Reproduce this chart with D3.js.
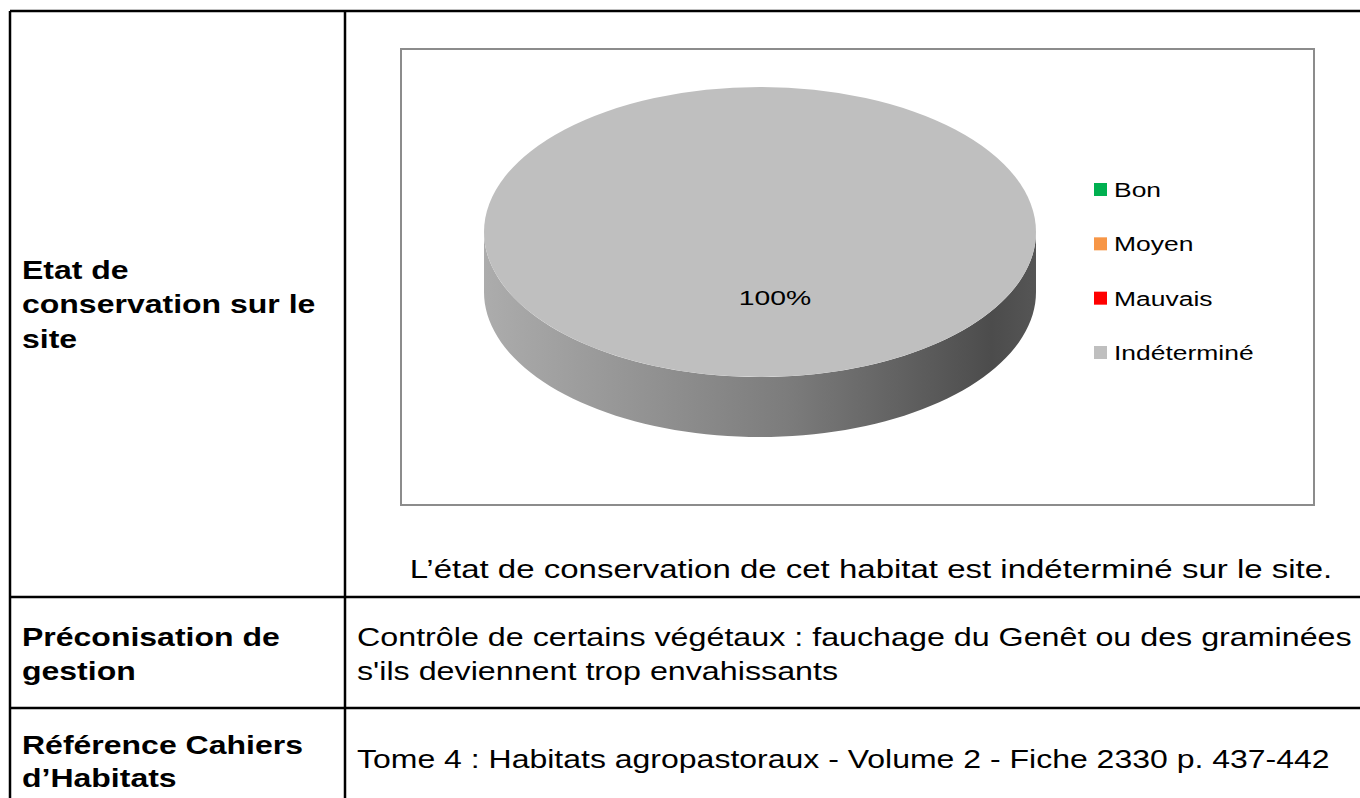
<!DOCTYPE html>
<html>
<head>
<meta charset="utf-8">
<title>Etat de conservation</title>
<script src="https://d3js.org/d3.v7.min.js"></script>
<style>
  body { margin: 0; background: #fff; }
  svg { display: block; font-family: Arial, "Liberation Sans", sans-serif; }
</style>
</head>
<body>
<svg width="1360" height="798"></svg>
<script>
// data
var categories = ["Bon", "Moyen", "Mauvais", "Indéterminé"];
var values = [0, 0, 0, 100];
var colors = ["#00b050", "#f79646", "#ff0000", "#bfbfbf"];
var caption = "L\u2019état de conservation de cet habitat est indéterminé sur le site.";
var rowLabels = [["Etat de", "conservation sur le", "site"],
                 ["Préconisation de", "gestion"],
                 ["Référence Cahiers", "d\u2019Habitats"]];
var gestion = ["Contrôle de certains végétaux : fauchage du Genêt ou des graminées",
               "s'ils deviennent trop envahissants"];
var reference = ["Tome 4 : Habitats agropastoraux - Volume 2 - Fiche 2330 p. 437-442"];

var svg = d3.select("svg");
var sx = 1.28; // the source text is a bit wider than Arial

// text helper, stretched horizontally
function txt(x, y, s, size, opts) {
  opts = opts || {};
  var g = svg.append("g").attr("transform", "translate(" + x + "," + y + ") scale(" + (opts.sx || sx) + ",1)");
  return g.append("text").attr("font-size", size).attr("fill", "#000")
    .attr("font-weight", opts.bold ? "bold" : null)
    .attr("text-anchor", opts.anchor || "start").text(s);
}

// table grid
var colX = [10, 345, 1372];
var rowY = [11, 597, 708, 812];
var grid = svg.append("g").attr("stroke", "#000").attr("stroke-width", 2.5);
rowY.forEach(function(y) {
  grid.append("line").attr("x1", colX[0]).attr("x2", colX[2]).attr("y1", y).attr("y2", y);
});
colX.slice(0, 2).forEach(function(x) {
  grid.append("line").attr("x1", x).attr("x2", x).attr("y1", rowY[0]).attr("y2", 798);
});

// left column labels
var labelY = [[279, 313, 348], [646, 680], [754, 787]];
rowLabels.forEach(function(lines, i) {
  lines.forEach(function(t, j) {
    txt(22, labelY[i][j], t, 25, {bold: true});
  });
});

// chart frame
svg.append("rect").attr("x", 401).attr("y", 49).attr("width", 913).attr("height", 456)
  .attr("fill", "#fff").attr("stroke", "#8c8c8c").attr("stroke-width", 2);

// 3D pie
var cx = 760, cy = 232, rx = 276, ry = 145, depth = 60;
var defs = svg.append("defs");
var grad = defs.append("linearGradient").attr("id", "side")
  .attr("x1", "0%").attr("x2", "100%").attr("y1", "0%").attr("y2", "0%");
grad.append("stop").attr("offset", "0%").attr("stop-color", "#acacac");
grad.append("stop").attr("offset", "55%").attr("stop-color", "#7c7c7c");
grad.append("stop").attr("offset", "92%").attr("stop-color", "#4c4c4c");
grad.append("stop").attr("offset", "100%").attr("stop-color", "#555");

var pie = d3.pie().sort(null).value(function(d) { return d; });
var arcs = pie(values);

function pt(a, dy) {
  // d3 angles: 0 at 12 o'clock, clockwise
  return [cx + rx * Math.sin(a), cy - ry * Math.cos(a) + (dy || 0)];
}

var pieG = svg.append("g");
// sides: front half is angles from PI/2 to 3PI/2
arcs.forEach(function(d, i) {
  if (d.endAngle - d.startAngle <= 0) return;
  var a0 = Math.max(d.startAngle, Math.PI / 2), a1 = Math.min(d.endAngle, 3 * Math.PI / 2);
  if (a1 <= a0) return;
  var n = 80, top = [], bot = [];
  for (var k = 0; k <= n; k++) {
    var a = a0 + (a1 - a0) * k / n;
    top.push(pt(a, 0));
    bot.push(pt(a, depth));
  }
  var ring = top.concat(bot.reverse());
  pieG.append("path").attr("d", d3.line()(ring) + "Z").attr("fill", "url(#side)");
});
// top faces
var arc = d3.arc().innerRadius(0).outerRadius(rx);
arcs.forEach(function(d, i) {
  if (d.endAngle - d.startAngle <= 0) return;
  pieG.append("path")
    .attr("transform", "translate(" + cx + "," + cy + ") scale(1," + (ry / rx) + ")")
    .attr("d", arc(d)).attr("fill", colors[i]);
});
// data label
var total = d3.sum(values);
arcs.forEach(function(d, i) {
  if (d.value <= 0) return;
  var c = d.endAngle - d.startAngle >= 2 * Math.PI - 1e-6 ? [cx + 15, cy + 73] : pt((d.startAngle + d.endAngle) / 2);
  txt(c[0], c[1], Math.round(d.value / total * 100) + "%", 21, {anchor: "middle", sx: 1.35});
});

// legend
var legY = d3.scalePoint().domain(categories).range([190, 353]);
var leg = svg.append("g").selectAll("g").data(categories).enter().append("g")
  .attr("transform", function(d) { return "translate(1094," + legY(d) + ")"; });
leg.append("rect").attr("x", 0).attr("y", -7).attr("width", 13).attr("height", 13)
  .attr("fill", function(d, i) { return colors[i]; });
categories.forEach(function(c) {
  txt(1114, legY(c) + 7, c, 21, {sx: 1.26});
});

// caption under chart
txt(871, 578, caption, 25, {anchor: "middle", sx: 1.32});

// right column texts
gestion.forEach(function(t, j) {
  txt(357, 646 + j * 34, t, 25, {sx: 1.29});
});
reference.forEach(function(t) {
  txt(357, 768, t, 25);
});
</script>
</body>
</html>
